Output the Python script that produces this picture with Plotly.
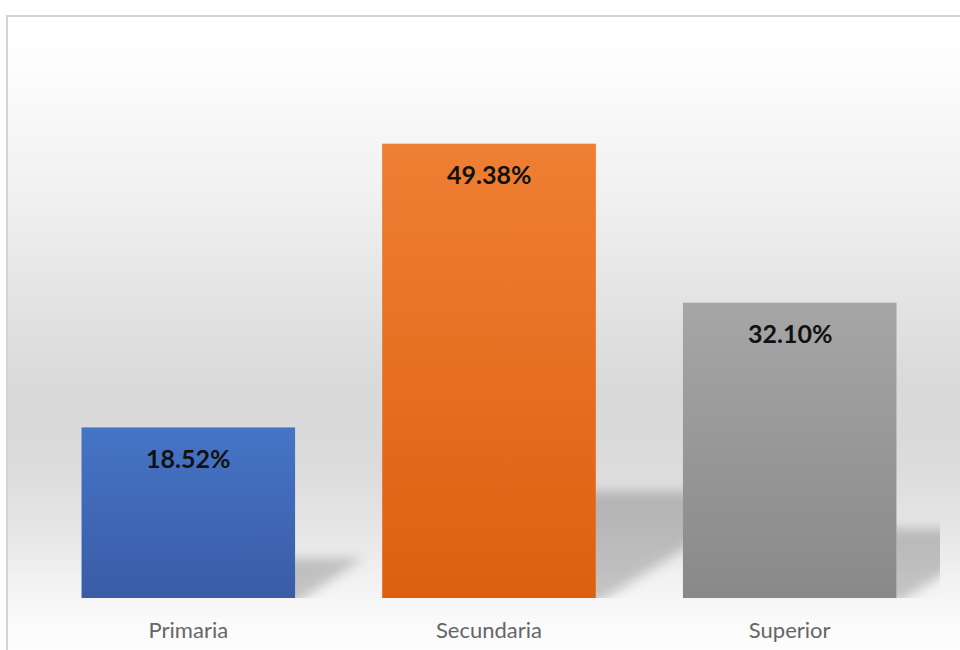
import base64
import plotly.graph_objects as go

# Nivel educativo alcanzado (porcentaje de personas)
categorias = ["Primaria", "Secundaria", "Superior"]
porcentajes = [18.52, 49.38, 32.10]

# Gradient colours for each bar (top, bottom)
colores_sup = ["#4674c6", "#ef7f34", "#a6a6a6"]
colores_inf = ["#3a5ca6", "#dd600f", "#898989"]

W, H = 960, 650
M_L, M_R, M_T, M_B = 38, 20, 46, 52
Y_MAX = 60
BAR_WIDTH = 0.71

plot_w = W - M_L - M_R
plot_h = H - M_T - M_B
px_x = plot_w / len(categorias)      # pixels per category unit
px_y = plot_h / Y_MAX                # pixels per percentage point


def svg_uri(svg):
    return "data:image/svg+xml;base64," + base64.b64encode(svg.encode()).decode()


def gradient_svg(stops, w=100, h=100):
    st = "".join(f'<stop offset="{o}" stop-color="{c}"/>' for o, c in stops)
    return svg_uri(
        f'<svg xmlns="http://www.w3.org/2000/svg" width="{w}" height="{h}" '
        f'viewBox="0 0 {w} {h}" preserveAspectRatio="none">'
        f'<defs><linearGradient id="g" x1="0" y1="0" x2="0" y2="1">{st}</linearGradient></defs>'
        f'<rect x="0" y="0" width="{w}" height="{h}" fill="url(#g)"/></svg>'
    )


def shadow_svg(bar_px, h_px, s_px, pad):
    w = bar_px + s_px + pad
    hh = h_px + pad
    pts = f"0,{hh + 6} {bar_px},{hh + 6} {bar_px + s_px},{pad} {s_px},{pad}"
    return svg_uri(
        f'<svg xmlns="http://www.w3.org/2000/svg" width="{w:.1f}" height="{hh:.1f}" '
        f'viewBox="0 0 {w:.1f} {hh:.1f}" preserveAspectRatio="none">'
        f'<defs><filter id="b" x="-30%" y="-30%" width="160%" height="160%">'
        f'<feGaussianBlur stdDeviation="6"/></filter></defs>'
        f'<polygon points="{pts}" fill="#000" fill-opacity="0.20" filter="url(#b)"/></svg>'
    ), w, hh


x_idx = list(range(len(categorias)))

fig = go.Figure()
fig.add_trace(go.Bar(
    x=x_idx, y=porcentajes, width=BAR_WIDTH,
    marker=dict(color=colores_sup, line=dict(width=0)),
    hovertemplate="%{text}: %{y:.2f}%<extra></extra>",
    text=categorias, textposition="none",
))

images = []

# chart-area background: white -> grey -> white
top_px, left_px = 17, 8
bg_stops = [(0, "#ffffff"), (0.07, "#fdfdfd"), (0.29, "#f0f0f0"), (0.45, "#e3e3e3"),
            (0.59, "#d9d9d9"), (0.70, "#dbdbdb"), (0.80, "#e5e5e5"), (0.89, "#f2f2f2"),
            (0.95, "#fafafa"), (1, "#fdfdfd")]
images.append(dict(
    source=gradient_svg(bg_stops), xref="paper", yref="paper",
    x=(left_px - M_L) / plot_w, y=(H - M_B - top_px) / plot_h,
    sizex=(W + 2 - left_px) / plot_w, sizey=(H + 2 - top_px) / plot_h,
    xanchor="left", yanchor="top", sizing="stretch", layer="below",
))

# perspective shadows cast behind each bar
for i, v in zip(x_idx, porcentajes):
    bar_h = v * px_y
    h_px = 0.235 * bar_h
    s_px = 0.40 * bar_h
    pad = 14
    src, w_px, hh_px = shadow_svg(BAR_WIDTH * px_x, h_px, s_px, pad)
    images.append(dict(
        source=src, xref="x", yref="y",
        x=i - BAR_WIDTH / 2, y=hh_px / px_y,
        sizex=w_px / px_x, sizey=hh_px / px_y,
        xanchor="left", yanchor="top", sizing="stretch", layer="below",
    ))

# vertical gradient fill laid over each bar
for i, v, c0, c1 in zip(x_idx, porcentajes, colores_sup, colores_inf):
    images.append(dict(
        source=gradient_svg([(0, c0), (1, c1)]), xref="x", yref="y",
        x=i - BAR_WIDTH / 2, y=v, sizex=BAR_WIDTH, sizey=v,
        xanchor="left", yanchor="top", sizing="stretch", layer="above",
    ))

annotations = [
    dict(x=i, y=v, text=f"{v:.2f}%", showarrow=False, yanchor="middle", yshift=-30,
         font=dict(family="Lato", size=25, color="#111111", weight="bold"))
    for i, v in zip(x_idx, porcentajes)
]

fig.update_layout(
    width=W, height=H,
    margin=dict(l=M_L, r=M_R, t=M_T, b=M_B, autoexpand=False),
    paper_bgcolor="#ffffff", plot_bgcolor="rgba(0,0,0,0)",
    showlegend=False,
    bargap=1 - BAR_WIDTH,
    images=images,
    annotations=annotations,
    shapes=[dict(
        type="rect", xref="paper", yref="paper",
        x0=(left_px - 1 - M_L) / plot_w, x1=(W + 20 - M_L) / plot_w,
        y0=-(M_B + 20) / plot_h, y1=(H - M_B - top_px + 1) / plot_h,
        line=dict(color="#d4d4d4", width=2), fillcolor="rgba(0,0,0,0)", layer="above",
    )],
    xaxis=dict(
        range=[-0.5, len(categorias) - 0.5], tickvals=x_idx, ticktext=categorias,
        showgrid=False, zeroline=False, showline=False, ticks="",
        ticklabelstandoff=17, automargin=False,
        tickfont=dict(family="Lato", size=22, color="#666666"),
    ),
    yaxis=dict(range=[0, Y_MAX], visible=False, showgrid=False, zeroline=False,
               automargin=False),
    font=dict(family="Lato"),
)

fig.write_html("out.html")
